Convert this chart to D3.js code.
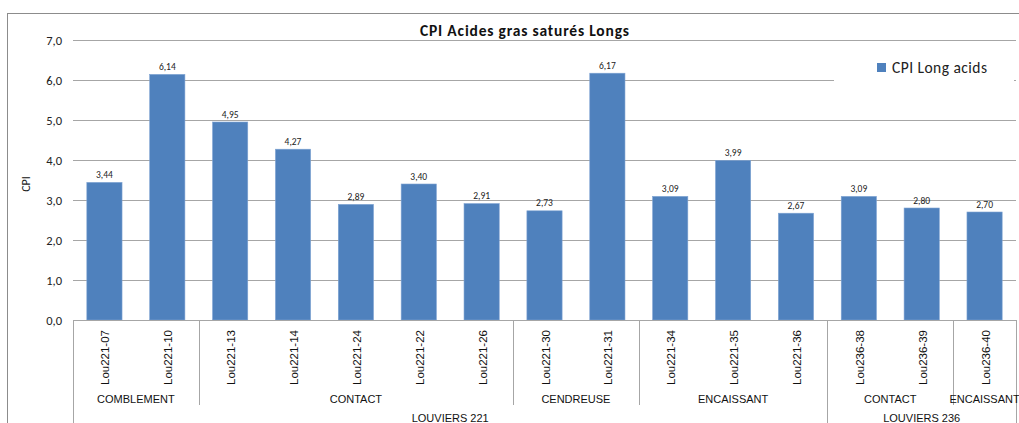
<!DOCTYPE html>
<html>
<head>
<meta charset="utf-8">
<script src="https://cdn.jsdelivr.net/npm/d3@7"></script>
<style>
  html, body { margin: 0; padding: 0; background: #fff; overflow: hidden; }
  svg { display: block; }
</style>
</head>
<body>
<svg id="chart" width="1019" height="423"></svg>
<script>
// Samples and their CPI values
const categories = ["Lou221-07","Lou221-10","Lou221-13","Lou221-14","Lou221-24","Lou221-22","Lou221-26",
  "Lou221-30","Lou221-31","Lou221-34","Lou221-35","Lou221-36","Lou236-38","Lou236-39","Lou236-40"];
const values = [3.44, 6.14, 4.95, 4.27, 2.89, 3.40, 2.91, 2.73, 6.17, 3.09, 3.99, 2.67, 3.09, 2.80, 2.70];
// Facies groups (start index, count) and borehole groups
const facies = [
  {name: "COMBLEMENT", start: 0, n: 2},
  {name: "CONTACT", start: 2, n: 5},
  {name: "CENDREUSE", start: 7, n: 2},
  {name: "ENCAISSANT", start: 9, n: 3},
  {name: "CONTACT", start: 12, n: 2},
  {name: "ENCAISSANT", start: 14, n: 1}
];
const sites = [
  {name: "LOUVIERS 221", start: 0, n: 12},
  {name: "LOUVIERS 236", start: 12, n: 3}
];
const yTicks = [0, 1, 2, 3, 4, 5, 6, 7];
const seriesName = "CPI Long acids";
const title = "CPI Acides gras saturés Longs";
const yTitle = "CPI";

const svg = d3.select("#chart");
const calibri = "Carlito, Lato, 'Liberation Sans', sans-serif";
const arial = "'Liberation Sans', Arial, sans-serif";
const barColor = "#4F81BD";
const gridColor = "#A6A6A6";

const plot = {left: 73, right: 1016, top: 40, bottom: 320};

const x = d3.scaleBand().domain(d3.range(categories.length)).range([plot.left, plot.right])
  .paddingInner(0.44).paddingOuter(0.22);
const step = (plot.right - plot.left) / categories.length;
const edge = i => plot.left + i * step;
const y = d3.scaleLinear().domain([0, 7]).range([plot.bottom, plot.top]);

// Outer chart frame
svg.append("rect").attr("x", 7.5).attr("y", 13.5).attr("width", 1030).attr("height", 430)
  .attr("fill", "none").attr("stroke", "#8C8C8C").attr("stroke-width", 1);

// Gridlines
svg.append("g").selectAll("line").data(yTicks.filter(d => d > 0)).join("line")
  .attr("x1", plot.left).attr("x2", plot.right)
  .attr("y1", d => Math.round(y(d)) + 0.5).attr("y2", d => Math.round(y(d)) + 0.5)
  .attr("stroke", gridColor).attr("stroke-width", 1);

// Y tick labels
svg.append("g").selectAll("text").data(yTicks).join("text")
  .attr("x", 62).attr("y", d => y(d) + 4.5)
  .attr("text-anchor", "end").attr("font-family", calibri).attr("font-size", 12.5)
  .attr("fill", "#222").text(d => d3.format(".1f")(d).replace(".", ","));

// Y axis title
svg.append("text").attr("transform", "translate(29.5,184) rotate(-90)")
  .attr("text-anchor", "middle").attr("font-family", calibri).attr("font-size", 12)
  .attr("fill", "#222").text(yTitle);

// Bars
svg.append("g").selectAll("rect").data(values).join("rect")
  .attr("x", (d, i) => x(i)).attr("width", x.bandwidth())
  .attr("y", d => y(d)).attr("height", d => y(0) - y(d))
  .attr("fill", barColor).attr("stroke", "#7FA3D2").attr("stroke-width", 0.6);

// Value labels
svg.append("g").selectAll("text").data(values).join("text")
  .attr("x", (d, i) => x(i) + x.bandwidth() / 2).attr("y", d => y(d) - 4.5)
  .attr("text-anchor", "middle").attr("font-family", calibri).attr("font-size", 9.5)
  .attr("fill", "#222").text(d => d3.format(".2f")(d).replace(".", ","));

// Category axis line
svg.append("line").attr("x1", plot.left).attr("x2", plot.right)
  .attr("y1", plot.bottom + 0.5).attr("y2", plot.bottom + 0.5).attr("stroke", gridColor);

// Category labels (rotated)
svg.append("g").selectAll("text").data(categories).join("text")
  .attr("transform", (d, i) => `translate(${x(i) + x.bandwidth() / 2 + 5},330) rotate(-90)`)
  .attr("text-anchor", "end").attr("font-family", arial).attr("font-size", 11.5)
  .attr("fill", "#111").text(d => d);

// Facies separators and labels
const faciesEdges = [...new Set(facies.flatMap(f => [f.start, f.start + f.n]))];
const siteEdges = [...new Set(sites.flatMap(s => [s.start, s.start + s.n]))];
svg.append("g").selectAll("line").data(faciesEdges.filter(e => !siteEdges.includes(e))).join("line")
  .attr("x1", e => Math.round(edge(e)) + 0.5).attr("x2", e => Math.round(edge(e)) + 0.5)
  .attr("y1", plot.bottom).attr("y2", 405).attr("stroke", gridColor);
svg.append("g").selectAll("line").data(siteEdges).join("line")
  .attr("x1", e => Math.round(edge(e)) + 0.5).attr("x2", e => Math.round(edge(e)) + 0.5)
  .attr("y1", plot.bottom).attr("y2", 423).attr("stroke", gridColor);

svg.append("g").selectAll("text").data(facies).join("text")
  .attr("x", f => (edge(f.start) + edge(f.start + f.n)) / 2).attr("y", 403)
  .attr("text-anchor", "middle").attr("font-family", arial).attr("font-size", 11)
  .attr("fill", "#111").text(f => f.name);

svg.append("g").selectAll("text").data(sites).join("text")
  .attr("x", s => (edge(s.start) + edge(s.start + s.n)) / 2).attr("y", 421.5)
  .attr("text-anchor", "middle").attr("font-family", arial).attr("font-size", 11)
  .attr("fill", "#111").text(s => s.name);

// Legend (covers the gridline beneath it)
svg.append("rect").attr("x", 834).attr("y", 44).attr("width", 180).attr("height", 56).attr("fill", "#fff");
svg.append("rect").attr("x", 877).attr("y", 63).attr("width", 9).attr("height", 9).attr("fill", barColor);
svg.append("text").attr("x", 892).attr("y", 72.5).attr("font-family", calibri).attr("font-size", 15.5)
  .attr("textLength", 95).attr("lengthAdjust", "spacing")
  .attr("fill", "#222").text(seriesName);

// Title
svg.append("text").attr("x", 524.5).attr("y", 36).attr("text-anchor", "middle")
  .attr("font-family", calibri).attr("font-size", 15.5).attr("font-weight", "bold")
  .attr("textLength", 209).attr("lengthAdjust", "spacing")
  .attr("fill", "#111").text(title);
</script>
</body>
</html>
